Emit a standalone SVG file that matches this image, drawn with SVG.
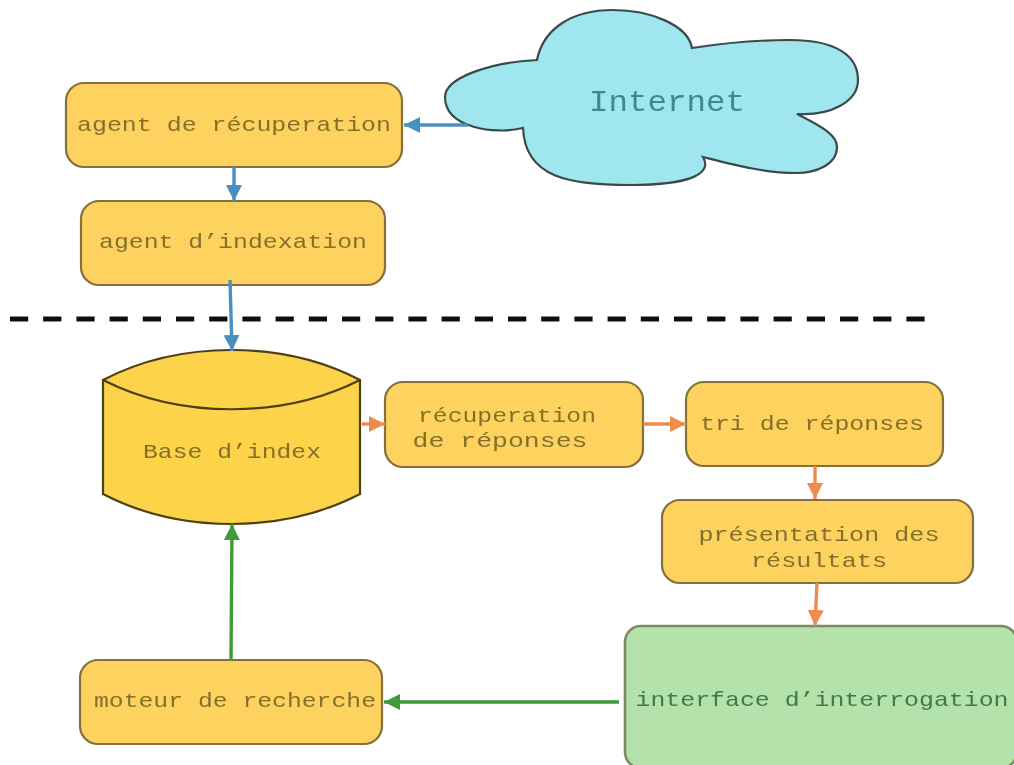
<svg xmlns="http://www.w3.org/2000/svg" width="1014" height="765" viewBox="0 0 1014 765">
<style>
.b{fill:#fdd25f;stroke:#85703a;stroke-width:2.2}
.g{fill:#b3e3ab;stroke:#7f8a62;stroke-width:2.6}
.c{fill:#a0e6ee;stroke:#3a4a4c;stroke-width:2.2}
.d{fill:#fdd348;stroke:#4e4018;stroke-width:2.2}
text{font-family:"Liberation Mono","DejaVu Sans Mono",monospace;font-size:21px;fill:#85702c;text-anchor:middle}
.l{fill:none;stroke-width:3.4}
.bl{stroke:#4a8fc0}.or{stroke:#ee8c4c}.gr{stroke:#3f9a38}
</style>
<defs>
<marker id="ab" markerUnits="userSpaceOnUse" markerWidth="20" markerHeight="20" refX="16" refY="9" orient="auto"><path d="M0 1L16 9L0 17Z" fill="#4a8fc0"/></marker>
<marker id="ao" markerUnits="userSpaceOnUse" markerWidth="20" markerHeight="20" refX="16" refY="9" orient="auto"><path d="M0 1L16 9L0 17Z" fill="#ee8c4c"/></marker>
<marker id="ag" markerUnits="userSpaceOnUse" markerWidth="20" markerHeight="20" refX="16" refY="9" orient="auto"><path d="M0 1L16 9L0 17Z" fill="#3f9a38"/></marker>
<filter id="soft" filterUnits="userSpaceOnUse" x="0" y="0" width="1014" height="765"><feGaussianBlur stdDeviation="0.5"/></filter>
</defs>
<rect width="1014" height="765" fill="#fff"/>
<g filter="url(#soft)">
<path d="M10 319H925" fill="none" stroke="#111" stroke-width="5" stroke-dasharray="18.2 15"/>
<g id="internet"><path class="c" d="M537 60C543 30 570 10 613 10C650 10 688 25 692 48C730 42 770 40 790 40C835 40 858 55 858 80C858 102 830 116 797 114C825 128 837 136 837 147C837 165 815 173 797 173C765 173 735 165 703 157C712 172 695 185 630 185C570 185 525 178 523 128C495 135 445 128 445 97C445 78 490 62 537 60Z"/><text x="667" y="111" style="font-size:29px;fill:#3f8790" textLength="156" lengthAdjust="spacingAndGlyphs">Internet</text></g>
<g id="agent-recuperation"><rect class="b" x="66" y="83" width="336" height="84" rx="18"/><text x="234" y="131" textLength="314" lengthAdjust="spacingAndGlyphs">agent de récuperation</text></g>
<g id="agent-indexation"><rect class="b" x="81" y="201" width="304" height="84" rx="18"/><text x="233" y="248" textLength="268" lengthAdjust="spacingAndGlyphs">agent d’indexation</text></g>
<g id="base-index"><path class="d" d="M103 380C180 340 283 340 360 380V494C283 534 180 534 103 494Z"/><path class="d" d="M103 380C180 419 283 419 360 380" fill="none"/><text x="232" y="458" textLength="178" lengthAdjust="spacingAndGlyphs">Base d’index</text></g>
<g id="recuperation-reponses"><rect class="b" x="385" y="382" width="258" height="85" rx="18"/><text x="507" y="422" textLength="178" lengthAdjust="spacingAndGlyphs">récuperation</text><text x="500" y="447" textLength="175" lengthAdjust="spacingAndGlyphs">de réponses</text></g>
<g id="tri-reponses"><rect class="b" x="686" y="382" width="257" height="84" rx="18"/><text x="812" y="430" textLength="224" lengthAdjust="spacingAndGlyphs">tri de réponses</text></g>
<g id="presentation"><rect class="b" x="662" y="500" width="311" height="83" rx="18"/><text x="819" y="541" textLength="241" lengthAdjust="spacingAndGlyphs">présentation des</text><text x="819" y="567" textLength="136" lengthAdjust="spacingAndGlyphs">résultats</text></g>
<g id="interface"><rect class="g" x="625" y="626" width="392" height="142" rx="16"/><text x="822" y="706" style="fill:#3f7a4a" textLength="373" lengthAdjust="spacingAndGlyphs">interface d’interrogation</text></g>
<g id="moteur"><rect class="b" x="80" y="660" width="302" height="84" rx="18"/><text x="235" y="707" textLength="282" lengthAdjust="spacingAndGlyphs">moteur de recherche</text></g>
<g id="connectors">
<path class="l bl" d="M468 125H404" marker-end="url(#ab)"/>
<path class="l bl" d="M234 167V201" marker-end="url(#ab)"/>
<path class="l bl" d="M230 280L232 351" marker-end="url(#ab)"/>
<path class="l or" d="M362 424H385" marker-end="url(#ao)"/>
<path class="l or" d="M643 424H686" marker-end="url(#ao)"/>
<path class="l or" d="M815 466V499" marker-end="url(#ao)"/>
<path class="l or" d="M817 583L815 626" marker-end="url(#ao)"/>
<path class="l gr" d="M619 702H384" marker-end="url(#ag)"/>
<path class="l gr" d="M231 660L232 524" marker-end="url(#ag)"/>
</g>
</g>
</svg>
